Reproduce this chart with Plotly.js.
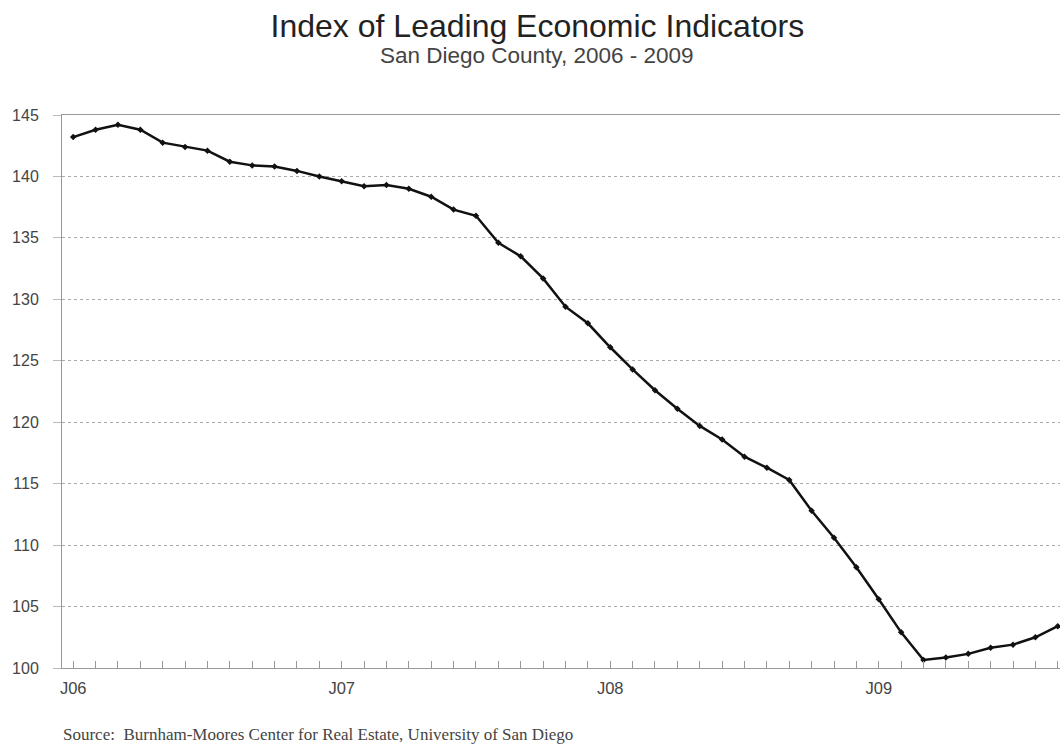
<!DOCTYPE html>
<html>
<head>
<meta charset="utf-8">
<script src="https://cdn.plot.ly/plotly-3.0.1.min.js"></script>
<style>
  html, body { margin: 0; padding: 0; background: #ffffff; }
  #chart { width: 1060px; height: 746px; }
</style>
</head>
<body>
<div id="chart"></div>
<script>
// Months, January 2006 to September 2009
const months = [
  "2006-01","2006-02","2006-03","2006-04","2006-05","2006-06","2006-07","2006-08","2006-09","2006-10","2006-11","2006-12",
  "2007-01","2007-02","2007-03","2007-04","2007-05","2007-06","2007-07","2007-08","2007-09","2007-10","2007-11","2007-12",
  "2008-01","2008-02","2008-03","2008-04","2008-05","2008-06","2008-07","2008-08","2008-09","2008-10","2008-11","2008-12",
  "2009-01","2009-02","2009-03","2009-04","2009-05","2009-06","2009-07","2009-08","2009-09"
];

// Index of Leading Economic Indicators, San Diego County
const indexValues = [
  143.2, 143.8, 144.2, 143.8, 142.75, 142.4, 142.1, 141.2, 140.9, 140.8, 140.45, 140.0,
  139.6, 139.2, 139.3, 139.0, 138.35, 137.3, 136.8, 134.6, 133.5, 131.7, 129.4, 128.05,
  126.1, 124.3, 122.6, 121.1, 119.7, 118.6, 117.2, 116.3, 115.3, 112.8, 110.6, 108.2,
  105.6, 102.9, 100.65, 100.85, 101.15, 101.65, 101.9, 102.5, 103.4
];

// Labelled ticks on the x axis
const tickMonths = ["2006-01", "2007-01", "2008-01", "2009-01"];
const tickLabels = ["J06", "J07", "J08", "J09"];

// y axis ticks
const yTicks = [100, 105, 110, 115, 120, 125, 130, 135, 140, 145];

const xTickText = months.map(m => {
  const i = tickMonths.indexOf(m);
  return i >= 0 ? tickLabels[i] : "";
});

const trace = {
  type: "scatter",
  mode: "lines+markers",
  x: months,
  y: indexValues,
  line: { color: "#111111", width: 2.5 },
  marker: { color: "#111111", size: 5, symbol: "diamond" },
  cliponaxis: false,
  hoverinfo: "x+y"
};

const layout = {
  width: 1060,
  height: 746,
  paper_bgcolor: "#ffffff",
  plot_bgcolor: "#ffffff",
  margin: { l: 62, r: 0, t: 115, b: 78 },
  showlegend: false,
  font: { family: "Liberation Sans, Arial, sans-serif", color: "#444444" },
  title: {
    text: "Index of Leading Economic Indicators",
    font: { family: "Liberation Sans, Arial, sans-serif", size: 32, color: "#222222" },
    xref: "container", x: 0.507, xanchor: "center",
    yref: "container", y: 0.9658, yanchor: "middle"
  },
  xaxis: {
    type: "category",
    range: [-0.5, 44.1],
    tickmode: "array",
    tickvals: months,
    ticktext: xTickText,
    ticks: "inside",
    ticklen: 7,
    tickcolor: "#999999",
    tickwidth: 1,
    ticklabelstandoff: 5,
    tickfont: { size: 16.5, color: "#444444" },
    showgrid: false,
    showline: true,
    linecolor: "#999999",
    linewidth: 1,
    mirror: true,
    zeroline: false,
    fixedrange: true
  },
  yaxis: {
    range: [100, 145],
    tickmode: "array",
    tickvals: yTicks,
    ticks: "outside",
    ticklen: 8,
    tickcolor: "#bbbbbb",
    ticklabelstandoff: 11,
    tickfont: { size: 16, color: "#444444" },
    showgrid: true,
    gridcolor: "#aaaaaa",
    griddash: "dot",
    gridwidth: 1,
    showline: true,
    linecolor: "#999999",
    linewidth: 1,
    zeroline: false,
    fixedrange: true
  },
  annotations: [
    {
      text: "San Diego County, 2006 - 2009",
      xref: "paper", x: 0.476, xanchor: "center",
      yref: "paper", y: 1.1067, yanchor: "middle",
      showarrow: false,
      font: { family: "Liberation Sans, Arial, sans-serif", size: 22.5, color: "#444444" }
    },
    {
      text: "Source:  Burnham-Moores Center for Real Estate, University of San Diego",
      xref: "paper", x: -0.001, xanchor: "left",
      yref: "paper", y: -0.1205, yanchor: "middle",
      showarrow: false,
      font: { family: "Liberation Serif, Times New Roman, serif", size: 17, color: "#444444" }
    }
  ]
};

Plotly.newPlot("chart", [trace], layout, { displayModeBar: false, staticPlot: false });
</script>
</body>
</html>
